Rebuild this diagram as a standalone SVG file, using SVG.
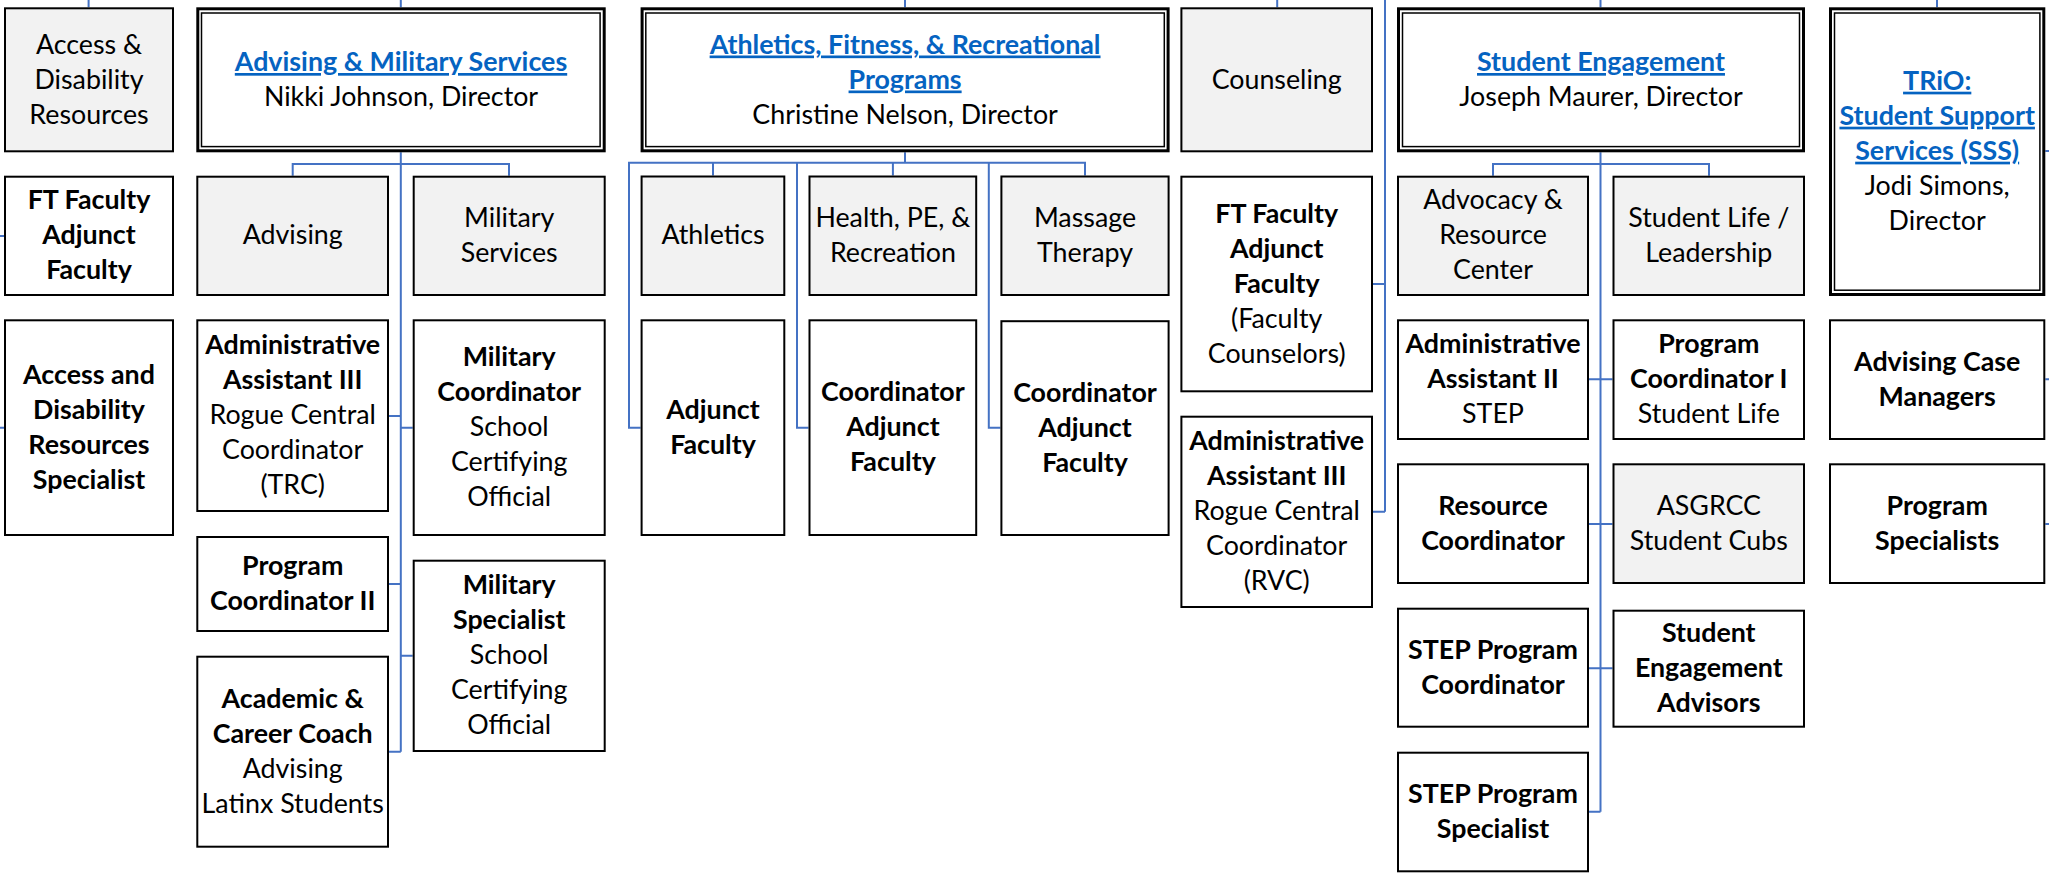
<svg xmlns="http://www.w3.org/2000/svg" width="2049" height="874" viewBox="0 0 2049 874">
<style>
rect.n{fill:#fff;stroke:#000;stroke-width:2}
rect.g{fill:#f2f2f2;stroke:#000;stroke-width:2}
rect.o{fill:#fff;stroke:#000;stroke-width:3}
rect.i{fill:none;stroke:#000;stroke-width:1.5}
text{font-family:Lato,"Liberation Sans",sans-serif;font-size:26.8px;text-anchor:middle;fill:#000}
.b{font-weight:700}
.h{font-weight:700;fill:#0563C1;text-decoration:underline}
#connectors path{fill:none;stroke:#4472C4;stroke-width:2}
</style>
<g id="connectors">
<path d="M88.6 0V7.3M400.8 0V7.3M905 0V7.3M1277.2 0V7.3M1600.5 0V7.3M1937 0V7.3"/>
<path d="M0 236H4.1M0 427.7H4.1"/>
<path d="M400.8 152.3V751.7M292.7 175.7V164H509V175.7M389 416H400.8M400.8 427.7H412.7M389 584H400.8M400.8 655.7H412.7M389 751.7H400.8"/>
<path d="M905 152.3V162.7M640.6 427.7H629V162.7H1085V175.5M713 162.7V175.5M892.9 162.7V175.5M797 162.7V427.7H808.5M988.8 162.7V427.7H1000.4"/>
<path d="M1385 0V511.7M1373 284H1385M1373 511.7H1385"/>
<path d="M1600.5 152.3V811.7M1493 175.7V164H1709V175.7M1589 379.3H1612.5M1589 524H1612.5M1589 668.3H1612.5M1589 811.7H1600.5"/>
<path d="M2045.3 151H2049M2045.3 379.3H2049M2045.3 524H2049"/>
</g>

<g id="access-disability-resources">
<rect class="g" x="5" y="8.3" width="168" height="143"/>
<text><tspan x="89" y="53.5">Access &amp;</tspan><tspan x="89" y="88.5">Disability</tspan><tspan x="89" y="123.5">Resources</tspan></text>
</g>
<g id="ft-faculty-1">
<rect class="n" x="5" y="176.7" width="168" height="118.3"/>
<text class="b"><tspan x="89" y="209.4">FT Faculty</tspan><tspan x="89" y="244.4">Adjunct</tspan><tspan x="89" y="279.4">Faculty</tspan></text>
</g>
<g id="adr-specialist">
<rect class="n" x="5" y="320.3" width="168" height="214.7"/>
<text class="b"><tspan x="89" y="383.7">Access and</tspan><tspan x="89" y="418.7">Disability</tspan><tspan x="89" y="453.7">Resources</tspan><tspan x="89" y="488.7">Specialist</tspan></text>
</g>

<g id="advising-military-services">
<rect class="o" x="197.8" y="8.8" width="406.4" height="142"/>
<rect class="i" x="201.5" y="13" width="398.6" height="133.6"/>
<text><tspan class="h" x="401" y="71">Advising &amp; Military Services</tspan><tspan x="401" y="106">Nikki Johnson, Director</tspan></text>
</g>
<g id="advising">
<rect class="g" x="197.3" y="176.7" width="190.7" height="118.3"/>
<text x="292.7" y="244.4">Advising</text>
</g>
<g id="military-services">
<rect class="g" x="413.7" y="176.7" width="191" height="118.3"/>
<text><tspan x="509.2" y="226.9">Military</tspan><tspan x="509.2" y="261.9">Services</tspan></text>
</g>
<g id="admin-assistant-trc">
<rect class="n" x="197.3" y="320.3" width="190.7" height="190.7"/>
<text><tspan class="b" x="292.7" y="354.2">Administrative</tspan><tspan class="b" x="292.7" y="389.2">Assistant III</tspan><tspan x="292.7" y="424.2">Rogue Central</tspan><tspan x="292.7" y="459.2">Coordinator</tspan><tspan x="292.7" y="494.2">(TRC)</tspan></text>
</g>
<g id="military-coordinator">
<rect class="n" x="413.7" y="320.3" width="191" height="214.7"/>
<text><tspan class="b" x="509.2" y="366.2">Military</tspan><tspan class="b" x="509.2" y="401.2">Coordinator</tspan><tspan x="509.2" y="436.2">School</tspan><tspan x="509.2" y="471.2">Certifying</tspan><tspan x="509.2" y="506.2">Official</tspan></text>
</g>
<g id="program-coordinator-2">
<rect class="n" x="197.3" y="537" width="190.7" height="94"/>
<text class="b"><tspan x="292.7" y="575">Program</tspan><tspan x="292.7" y="610">Coordinator II</tspan></text>
</g>
<g id="military-specialist">
<rect class="n" x="413.7" y="560.7" width="191" height="190.3"/>
<text><tspan class="b" x="509.2" y="594.4">Military</tspan><tspan class="b" x="509.2" y="629.4">Specialist</tspan><tspan x="509.2" y="664.4">School</tspan><tspan x="509.2" y="699.4">Certifying</tspan><tspan x="509.2" y="734.4">Official</tspan></text>
</g>
<g id="academic-career-coach">
<rect class="n" x="197.3" y="656.7" width="190.7" height="190"/>
<text><tspan class="b" x="292.7" y="707.7">Academic &amp;</tspan><tspan class="b" x="292.7" y="742.7">Career Coach</tspan><tspan x="292.7" y="777.7">Advising</tspan><tspan x="292.7" y="812.7">Latinx Students</tspan></text>
</g>

<g id="athletics-fitness-recreational">
<rect class="o" x="642.1" y="8.8" width="526" height="142"/>
<rect class="i" x="645.8" y="13" width="518.5" height="133.6"/>
<text><tspan class="h" x="905.1" y="53.5">Athletics, Fitness, &amp; Recreational</tspan><tspan class="h" x="905.1" y="88.5">Programs</tspan><tspan x="905.1" y="123.5">Christine Nelson, Director</tspan></text>
</g>
<g id="athletics">
<rect class="g" x="641.6" y="176.5" width="142.7" height="118.5"/>
<text x="713" y="244.3">Athletics</text>
</g>
<g id="health-pe-recreation">
<rect class="g" x="809.5" y="176.5" width="166.7" height="118.5"/>
<text><tspan x="892.9" y="226.8">Health, PE, &amp;</tspan><tspan x="892.9" y="261.8">Recreation</tspan></text>
</g>
<g id="massage-therapy">
<rect class="g" x="1001.4" y="176.5" width="167.2" height="118.5"/>
<text><tspan x="1085" y="226.8">Massage</tspan><tspan x="1085" y="261.8">Therapy</tspan></text>
</g>
<g id="athletics-adjunct">
<rect class="n" x="641.6" y="320.3" width="142.7" height="214.7"/>
<text class="b"><tspan x="713" y="418.7">Adjunct</tspan><tspan x="713" y="453.7">Faculty</tspan></text>
</g>
<g id="hpe-coordinator-adjunct">
<rect class="n" x="809.5" y="320.3" width="166.7" height="214.7"/>
<text class="b"><tspan x="892.9" y="401.2">Coordinator</tspan><tspan x="892.9" y="436.2">Adjunct</tspan><tspan x="892.9" y="471.2">Faculty</tspan></text>
</g>
<g id="massage-coordinator-adjunct">
<rect class="n" x="1001.4" y="321.2" width="167.2" height="213.8"/>
<text class="b"><tspan x="1085" y="401.7">Coordinator</tspan><tspan x="1085" y="436.7">Adjunct</tspan><tspan x="1085" y="471.7">Faculty</tspan></text>
</g>

<g id="counseling">
<rect class="g" x="1181.4" y="8.3" width="190.6" height="143"/>
<text x="1276.7" y="88.5">Counseling</text>
</g>
<g id="faculty-counselors">
<rect class="n" x="1181.4" y="176.7" width="190.6" height="214.6"/>
<text><tspan class="b" x="1276.7" y="222.5">FT Faculty</tspan><tspan class="b" x="1276.7" y="257.5">Adjunct</tspan><tspan class="b" x="1276.7" y="292.5">Faculty</tspan><tspan x="1276.7" y="327.5">(Faculty</tspan><tspan x="1276.7" y="362.5">Counselors)</tspan></text>
</g>
<g id="admin-assistant-rvc">
<rect class="n" x="1181.4" y="416.7" width="190.6" height="190.3"/>
<text><tspan class="b" x="1276.7" y="450.4">Administrative</tspan><tspan class="b" x="1276.7" y="485.4">Assistant III</tspan><tspan x="1276.7" y="520.4">Rogue Central</tspan><tspan x="1276.7" y="555.4">Coordinator</tspan><tspan x="1276.7" y="590.4">(RVC)</tspan></text>
</g>

<g id="student-engagement">
<rect class="o" x="1398.5" y="8.8" width="405" height="142"/>
<rect class="i" x="1402.5" y="13" width="397" height="133.6"/>
<text><tspan class="h" x="1601" y="71">Student Engagement</tspan><tspan x="1601" y="106">Joseph Maurer, Director</tspan></text>
</g>
<g id="advocacy-resource-center">
<rect class="g" x="1398" y="176.7" width="190" height="118.3"/>
<text><tspan x="1493" y="209.4">Advocacy &amp;</tspan><tspan x="1493" y="244.4">Resource</tspan><tspan x="1493" y="279.4">Center</tspan></text>
</g>
<g id="student-life-leadership">
<rect class="g" x="1613.5" y="176.7" width="190.5" height="118.3"/>
<text><tspan x="1708.8" y="226.9">Student Life /</tspan><tspan x="1708.8" y="261.9">Leadership</tspan></text>
</g>
<g id="admin-assistant-step">
<rect class="n" x="1398" y="320.3" width="190" height="118.7"/>
<text><tspan class="b" x="1493" y="353.2">Administrative</tspan><tspan class="b" x="1493" y="388.2">Assistant II</tspan><tspan x="1493" y="423.2">STEP</tspan></text>
</g>
<g id="program-coordinator-1">
<rect class="n" x="1613.5" y="320.3" width="190.5" height="118.7"/>
<text><tspan class="b" x="1708.8" y="353.2">Program</tspan><tspan class="b" x="1708.8" y="388.2">Coordinator I</tspan><tspan x="1708.8" y="423.2">Student Life</tspan></text>
</g>
<g id="resource-coordinator">
<rect class="n" x="1398" y="464.3" width="190" height="118.7"/>
<text class="b"><tspan x="1493" y="514.7">Resource</tspan><tspan x="1493" y="549.7">Coordinator</tspan></text>
</g>
<g id="asgrcc-student-cubs">
<rect class="g" x="1613.5" y="464.3" width="190.5" height="118.7"/>
<text><tspan x="1708.8" y="514.7">ASGRCC</tspan><tspan x="1708.8" y="549.7">Student Cubs</tspan></text>
</g>
<g id="step-program-coordinator">
<rect class="n" x="1398" y="608.7" width="190" height="118"/>
<text class="b"><tspan x="1493" y="658.7">STEP Program</tspan><tspan x="1493" y="693.7">Coordinator</tspan></text>
</g>
<g id="student-engagement-advisors">
<rect class="n" x="1613.5" y="610.7" width="190.5" height="116"/>
<text class="b"><tspan x="1708.8" y="642.2">Student</tspan><tspan x="1708.8" y="677.2">Engagement</tspan><tspan x="1708.8" y="712.2">Advisors</tspan></text>
</g>
<g id="step-program-specialist">
<rect class="n" x="1398" y="752.7" width="190" height="118.6"/>
<text class="b"><tspan x="1493" y="803">STEP Program</tspan><tspan x="1493" y="838">Specialist</tspan></text>
</g>

<g id="trio-sss">
<rect class="o" x="1830.5" y="8.8" width="213.3" height="285.7"/>
<rect class="i" x="1834.5" y="13" width="205.4" height="277.2"/>
<text><tspan class="h" x="1937.2" y="89.7">TRiO:</tspan><tspan class="h" x="1937.2" y="124.7">Student Support</tspan><tspan class="h" x="1937.2" y="159.7">Services (SSS)</tspan><tspan x="1937.2" y="194.7">Jodi Simons,</tspan><tspan x="1937.2" y="229.7">Director</tspan></text>
</g>
<g id="advising-case-managers">
<rect class="n" x="1830" y="320.3" width="214.3" height="118.7"/>
<text class="b"><tspan x="1937.2" y="370.7">Advising Case</tspan><tspan x="1937.2" y="405.7">Managers</tspan></text>
</g>
<g id="program-specialists">
<rect class="n" x="1830" y="464.3" width="214.3" height="118.7"/>
<text class="b"><tspan x="1937.2" y="514.7">Program</tspan><tspan x="1937.2" y="549.7">Specialists</tspan></text>
</g>
</svg>
